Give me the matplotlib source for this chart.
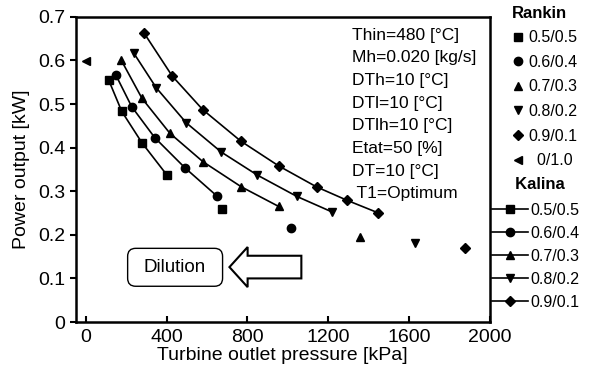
import numpy as np
import matplotlib
matplotlib.use('Agg')
import matplotlib.pyplot as plt
from matplotlib.lines import Line2D
from matplotlib.patches import FancyBboxPatch, FancyArrow

plt.rcParams['font.family'] = ['Liberation Sans', 'DejaVu Sans']

# ---------------- data ----------------
ratios = ['0.5/0.5', '0.6/0.4', '0.7/0.3', '0.8/0.2', '0.9/0.1']
markers = ['s', 'o', '^', 'v', 'D']

kalina_p = [
    [114, 178, 278, 400],
    [148, 227, 341, 490, 649],
    [176, 278, 416, 579, 770, 955],
    [237, 349, 497, 670, 849, 1045, 1221],
    [288, 428, 579, 767, 955, 1142, 1294, 1444],
]
kalina_w = [
    [0.554, 0.483, 0.411, 0.338],
    [0.567, 0.494, 0.423, 0.354, 0.289],
    [0.600, 0.513, 0.433, 0.368, 0.310, 0.265],
    [0.617, 0.537, 0.457, 0.390, 0.337, 0.288, 0.252],
    [0.663, 0.564, 0.487, 0.415, 0.358, 0.310, 0.279, 0.251],
]

rankin_labels = ['0.5/0.5', '0.6/0.4', '0.7/0.3', '0.8/0.2', '0.9/0.1', '  0/1.0']
rankin_markers = ['s', 'o', '^', 'v', 'D', '<']
rankin_p = [675, 1016, 1355, 1630, 1878, 3]
rankin_w = [0.260, 0.215, 0.194, 0.182, 0.169, 0.598]

info = ['Thin=480 [°C]', 'Mh=0.020 [kg/s]', 'DTh=10 [°C]', 'DTl=10 [°C]',
        'DTlh=10 [°C]', 'Etat=50 [%]', 'DT=10 [°C]', ' T1=Optimum']


def msize(m):
    return 5.0 if m == 'D' else 6.0


# ---------------- plot ----------------
fig = plt.figure(figsize=(6.01, 3.74), dpi=100)
ax = fig.add_axes([0.126, 0.139, 0.689, 0.816])

for p, w, m in zip(kalina_p, kalina_w, markers):
    ax.plot(p, w, color='black', lw=1.2, marker=m, ms=msize(m))

for p, w, m in zip(rankin_p, rankin_w, rankin_markers):
    ax.plot(p, w, linestyle='none', color='black', marker=m, ms=msize(m))

ax.set_xlim(-50, 2000)
ax.set_ylim(0, 0.7)
ax.set_xticks([0, 400, 800, 1200, 1600, 2000])
ax.set_yticks(np.arange(0, 0.71, 0.1))
ax.set_yticklabels(['0', '0.1', '0.2', '0.3', '0.4', '0.5', '0.6', '0.7'])
ax.tick_params(axis='x', direction='in', labelsize=14, length=4, width=1.5, pad=5)
ax.tick_params(axis='y', direction='out', labelsize=14, length=4, width=1.5)
for s in ax.spines.values():
    s.set_linewidth(1.8)
ax.set_xlabel('Turbine outlet pressure [kPa]', fontsize=14, labelpad=1)
ax.set_ylabel('Power output [kW]', fontsize=14, labelpad=6)

# parameters text
for i, t in enumerate(info):
    ax.text(1320, 0.658 - i * 0.052, t, fontsize=12.5, va='center', ha='left')

# dilution box and arrow
xpx = 2050 / 414.0
ypx = 0.7 / 306.0
ax.add_patch(FancyBboxPatch((207, 0.082), 470, 0.087,
                            boxstyle='round,pad=0,rounding_size=40',
                            mutation_aspect=ypx / xpx, fc='white', ec='black', lw=1.0))
ax.text(442, 0.126, 'Dilution', fontsize=13.5, ha='center', va='center')
ax.add_patch(FancyArrow(1067, 0.126, -356, 0, width=0.052, head_width=0.092,
                        head_length=90, length_includes_head=True,
                        fc='white', ec='black', lw=1.5))

# legends
rh = [Line2D([], [], ls='none', marker=m, color='black', ms=msize(m))
      for m in rankin_markers]
kh = [Line2D([], [], color='black', lw=1.2, marker=m, ms=msize(m))
      for m in markers]
leg1 = fig.legend(rh, rankin_labels, loc='upper left', bbox_to_anchor=(0.852, 0.985),
                  frameon=False, fontsize=11.5, title='Rankin', alignment='left',
                  handlelength=0.8, handletextpad=0.2, labelspacing=0.6,
                  borderpad=0, borderaxespad=0)
leg1.get_title().set_fontweight('bold')
leg1.get_title().set_fontsize(12)
leg2 = fig.legend(kh, ratios, loc='upper left', bbox_to_anchor=(0.818, 0.528),
                  frameon=False, fontsize=11.5, title='     Kalina', alignment='left',
                  handlelength=2.3, handletextpad=0.1, labelspacing=0.5,
                  borderpad=0, borderaxespad=0)
leg2.get_title().set_fontweight('bold')
leg2.get_title().set_fontsize(12)
leg2._legend_box.sep = 8

fig.savefig('out.png', dpi=100)
